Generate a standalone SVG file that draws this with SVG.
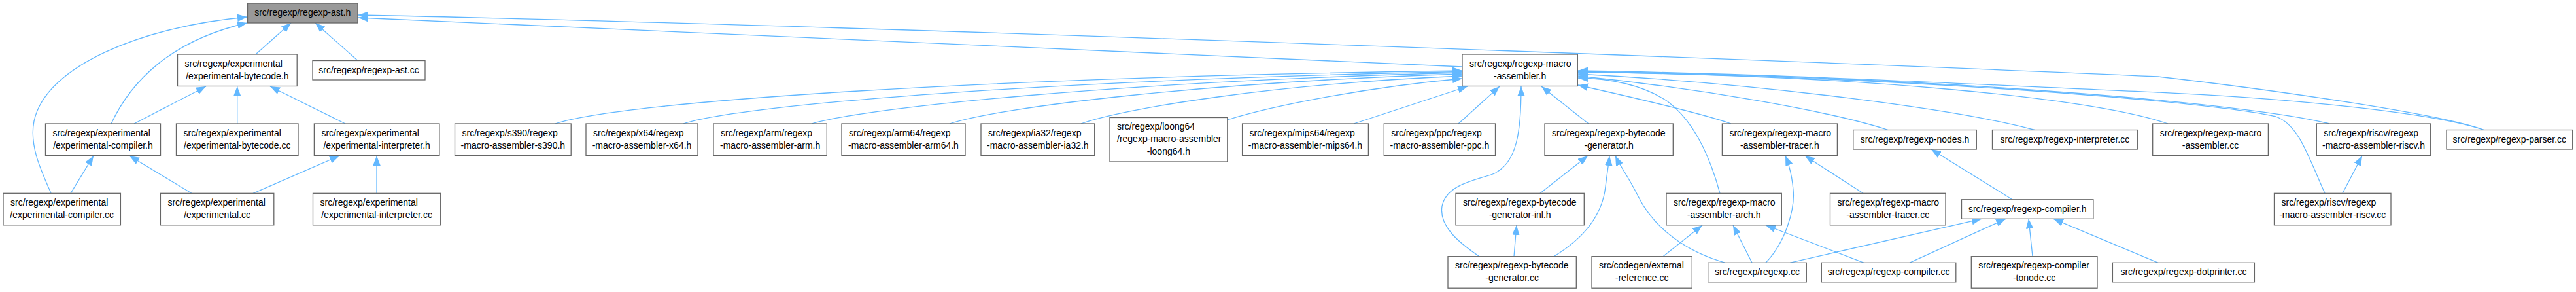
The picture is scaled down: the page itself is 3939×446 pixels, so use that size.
<svg xmlns="http://www.w3.org/2000/svg" width="3939" height="446" viewBox="0 0 3939 446">
<style>
.n rect{fill:#ffffff;stroke:#666666;stroke-width:1.3}
.root rect{fill:#999999}
text{font-family:"Liberation Sans",Arial,sans-serif;font-size:14px;fill:#000000}
.m{text-anchor:middle}
.l{text-anchor:start}
.e path{fill:none;stroke:#63b8ff;stroke-width:1.3;marker-end:url(#ah)}
</style>
<defs>
<marker id="ah" markerUnits="userSpaceOnUse" viewBox="0 0 15 12" markerWidth="15" markerHeight="12" refX="15" refY="6" orient="auto">
<path d="M0,0.2 L15,6 L0,11.8 z" fill="#63b8ff"/>
</marker>
</defs>
<rect width="3939" height="446" fill="#ffffff"/>
<g id="connectors" class="e">
<path d="M391,83 L445,35"/>
<path d="M547,92.5 L482,35"/>
<path d="M170,189 C200,125 260,62 378,35"/>
<path d="M78,295 C60,255 45,220 52,185 C70,100 220,40 378,26"/>
<path d="M2236,102 L548,27"/>
<path d="M3798,198.5 C3740,176 3500,140 3300,117 C2800,95 1300,38 548,23"/>
<path d="M205,189 L315,132"/>
<path d="M362.7,189 L362.7,132"/>
<path d="M528,189 L413,132"/>
<path d="M108,295.3 L143,238"/>
<path d="M293,295.3 L198,238"/>
<path d="M387,295.3 L519,238"/>
<path d="M576,295.3 L576,238"/>
<path d="M849,189 C950,155 1500,118 2236,108"/>
<path d="M1045,189 C1130,160 1600,122 2236,109.5"/>
<path d="M1241,189 C1320,165 1700,125 2236,111"/>
<path d="M1452,189 C1530,163 1850,125 2236,113"/>
<path d="M1653,189 C1720,165 1950,128 2236,116"/>
<path d="M1877,183 C1950,160 2100,132 2236,120"/>
<path d="M2070,189 L2244,132"/>
<path d="M2230,189 L2293,132"/>
<path d="M2262,391.7 C2230,370 2200,345 2205,315 C2212,280 2260,275 2285,265 C2320,248 2326,200 2326,132"/>
<path d="M2429,189 L2357,132"/>
<path d="M2647,189 C2600,172 2480,145 2413,130"/>
<path d="M2887,198.5 C2800,170 2600,135 2413,116"/>
<path d="M3111,198.5 C3000,168 2700,128 2413,113"/>
<path d="M3315,189 C3200,150 2850,115 2413,110"/>
<path d="M3562,189 C3450,160 3000,118 2413,109"/>
<path d="M3555,295.3 C3530,240 3515,190 3480,178 C3400,158 2950,118 2413,110"/>
<path d="M3798,198.5 C3720,172 3500,150 3300,141 C3000,128 2700,112 2413,108"/>
<path d="M2630,295.3 C2615,240 2590,185 2550,155 C2510,128 2460,120 2413,119"/>
<path d="M2355,295.3 L2428,238"/>
<path d="M2376,391.7 C2420,365 2450,330 2455,285 C2458,260 2460,250 2461,238"/>
<path d="M2315,391.7 L2319,344"/>
<path d="M2638,401.3 C2580,385 2530,350 2505,300 C2490,270 2478,255 2470,238"/>
<path d="M2543,391.7 L2603,344"/>
<path d="M2679,401.3 L2650,344"/>
<path d="M2850,401.3 L2700,344"/>
<path d="M2700,401.3 C2730,370 2745,320 2742,290 C2740,265 2735,250 2730,238"/>
<path d="M2849,295.3 L2760,238"/>
<path d="M3077,304.8 L2953,228"/>
<path d="M2737,401.3 L3030,334.3"/>
<path d="M2920,401.3 L3067,334.3"/>
<path d="M3108,391.7 L3102,334.3"/>
<path d="M3300,401.3 L3140,334.3"/>
<path d="M3582,295.3 L3612,238"/>
</g>
<g id="n1" class="n root"><rect x="378.5" y="5" width="168.5" height="30"/><text class="m" x="462.75" y="24">src/regexp/regexp-ast.h</text></g>
<g id="n2" class="n"><rect x="271.5" y="83" width="182.7" height="48.5"/><text class="l" x="282.5" y="101.5">src/regexp/experimental</text><text class="m" x="362.85" y="120.5">/experimental-bytecode.h</text></g>
<g id="n3" class="n"><rect x="478" y="92.5" width="172" height="29.5"/><text class="m" x="564" y="111.5">src/regexp/regexp-ast.cc</text></g>
<g id="n4" class="n"><rect x="2236" y="83" width="176.3" height="48.5"/><text class="l" x="2247" y="101.5">src/regexp/regexp-macro</text><text class="m" x="2324.15" y="120.5">-assembler.h</text></g>
<g id="n5" class="n"><rect x="69.5" y="189" width="176" height="48.5"/><text class="l" x="80.5" y="207.5">src/regexp/experimental</text><text class="m" x="157.5" y="226.5">/experimental-compiler.h</text></g>
<g id="n6" class="n"><rect x="269.5" y="189" width="186.5" height="48.5"/><text class="l" x="280.5" y="207.5">src/regexp/experimental</text><text class="m" x="362.75" y="226.5">/experimental-bytecode.cc</text></g>
<g id="n7" class="n"><rect x="480.4" y="189" width="191.5" height="48.5"/><text class="l" x="491.4" y="207.5">src/regexp/experimental</text><text class="m" x="576.15" y="226.5">/experimental-interpreter.h</text></g>
<g id="n8" class="n"><rect x="695.5" y="189" width="177.7" height="48.5"/><text class="l" x="706.5" y="207.5">src/regexp/s390/regexp</text><text class="m" x="784.35" y="226.5">-macro-assembler-s390.h</text></g>
<g id="n9" class="n"><rect x="896" y="189" width="171" height="48.5"/><text class="l" x="907" y="207.5">src/regexp/x64/regexp</text><text class="m" x="981.5" y="226.5">-macro-assembler-x64.h</text></g>
<g id="n10" class="n"><rect x="1091" y="189" width="173.3" height="48.5"/><text class="l" x="1102" y="207.5">src/regexp/arm/regexp</text><text class="m" x="1177.65" y="226.5">-macro-assembler-arm.h</text></g>
<g id="n11" class="n"><rect x="1287" y="189" width="189" height="48.5"/><text class="l" x="1298" y="207.5">src/regexp/arm64/regexp</text><text class="m" x="1381.5" y="226.5">-macro-assembler-arm64.h</text></g>
<g id="n12" class="n"><rect x="1500" y="189" width="173.7" height="48.5"/><text class="l" x="1511" y="207.5">src/regexp/ia32/regexp</text><text class="m" x="1586.85" y="226.5">-macro-assembler-ia32.h</text></g>
<g id="n13" class="n"><rect x="1697" y="179.5" width="179.8" height="67.5"/><text class="l" x="1708" y="198">src/regexp/loong64</text><text class="l" x="1708" y="217">/regexp-macro-assembler</text><text class="m" x="1786.9" y="236">-loong64.h</text></g>
<g id="n14" class="n"><rect x="1899.6" y="189" width="192.8" height="48.5"/><text class="l" x="1910.6" y="207.5">src/regexp/mips64/regexp</text><text class="m" x="1996" y="226.5">-macro-assembler-mips64.h</text></g>
<g id="n15" class="n"><rect x="2116.3" y="189" width="170.2" height="48.5"/><text class="l" x="2127.3" y="207.5">src/regexp/ppc/regexp</text><text class="m" x="2201.4" y="226.5">-macro-assembler-ppc.h</text></g>
<g id="n16" class="n"><rect x="2362" y="189" width="196.3" height="48.5"/><text class="l" x="2373" y="207.5">src/regexp/regexp-bytecode</text><text class="m" x="2460.15" y="226.5">-generator.h</text></g>
<g id="n17" class="n"><rect x="2633.4" y="189" width="176" height="48.5"/><text class="l" x="2644.4" y="207.5">src/regexp/regexp-macro</text><text class="m" x="2721.4" y="226.5">-assembler-tracer.h</text></g>
<g id="n18" class="n"><rect x="2833.8" y="198.5" width="188.5" height="29.5"/><text class="m" x="2928.05" y="217.5">src/regexp/regexp-nodes.h</text></g>
<g id="n19" class="n"><rect x="3046.5" y="198.5" width="221.8" height="29.5"/><text class="m" x="3157.4" y="217.5">src/regexp/regexp-interpreter.cc</text></g>
<g id="n20" class="n"><rect x="3291.7" y="189" width="176.7" height="48.5"/><text class="l" x="3302.7" y="207.5">src/regexp/regexp-macro</text><text class="m" x="3380.05" y="226.5">-assembler.cc</text></g>
<g id="n21" class="n"><rect x="3542.3" y="189" width="174.4" height="48.5"/><text class="l" x="3553.3" y="207.5">src/regexp/riscv/regexp</text><text class="m" x="3629.5" y="226.5">-macro-assembler-riscv.h</text></g>
<g id="n22" class="n"><rect x="3741" y="198.5" width="192.7" height="29.5"/><text class="m" x="3837.35" y="217.5">src/regexp/regexp-parser.cc</text></g>
<g id="n23" class="n"><rect x="5" y="295.3" width="179.4" height="48.5"/><text class="l" x="16" y="313.8">src/regexp/experimental</text><text class="m" x="94.7" y="332.8">/experimental-compiler.cc</text></g>
<g id="n24" class="n"><rect x="245.4" y="295.3" width="173.4" height="48.5"/><text class="l" x="256.4" y="313.8">src/regexp/experimental</text><text class="m" x="332.1" y="332.8">/experimental.cc</text></g>
<g id="n25" class="n"><rect x="478.5" y="295.3" width="195.2" height="48.5"/><text class="l" x="489.5" y="313.8">src/regexp/experimental</text><text class="m" x="576.1" y="332.8">/experimental-interpreter.cc</text></g>
<g id="n26" class="n"><rect x="2226" y="295.3" width="196.3" height="48.5"/><text class="l" x="2237" y="313.8">src/regexp/regexp-bytecode</text><text class="m" x="2324.15" y="332.8">-generator-inl.h</text></g>
<g id="n27" class="n"><rect x="2548" y="295.3" width="176.3" height="48.5"/><text class="l" x="2559" y="313.8">src/regexp/regexp-macro</text><text class="m" x="2636.15" y="332.8">-assembler-arch.h</text></g>
<g id="n28" class="n"><rect x="2798.5" y="295.3" width="176.5" height="48.5"/><text class="l" x="2809.5" y="313.8">src/regexp/regexp-macro</text><text class="m" x="2886.75" y="332.8">-assembler-tracer.cc</text></g>
<g id="n29" class="n"><rect x="2999.5" y="304.8" width="201.4" height="29.5"/><text class="m" x="3100.2" y="323.8">src/regexp/regexp-compiler.h</text></g>
<g id="n30" class="n"><rect x="3477.5" y="295.3" width="178.5" height="48.5"/><text class="l" x="3488.5" y="313.8">src/regexp/riscv/regexp</text><text class="m" x="3566.75" y="332.8">-macro-assembler-riscv.cc</text></g>
<g id="n31" class="n"><rect x="2214" y="391.7" width="196.3" height="48.5"/><text class="l" x="2225" y="410.2">src/regexp/regexp-bytecode</text><text class="m" x="2312.15" y="429.2">-generator.cc</text></g>
<g id="n32" class="n"><rect x="2434" y="391.7" width="153.3" height="48.5"/><text class="l" x="2445" y="410.2">src/codegen/external</text><text class="m" x="2510.65" y="429.2">-reference.cc</text></g>
<g id="n33" class="n"><rect x="2611.7" y="401.3" width="150.6" height="29.5"/><text class="m" x="2687" y="420.3">src/regexp/regexp.cc</text></g>
<g id="n34" class="n"><rect x="2785.3" y="401.3" width="205.5" height="29.5"/><text class="m" x="2888.05" y="420.3">src/regexp/regexp-compiler.cc</text></g>
<g id="n35" class="n"><rect x="3014.3" y="391.7" width="192.7" height="48.5"/><text class="l" x="3025.3" y="410.2">src/regexp/regexp-compiler</text><text class="m" x="3110.65" y="429.2">-tonode.cc</text></g>
<g id="n36" class="n"><rect x="3230.4" y="401.3" width="217" height="29.5"/><text class="m" x="3338.9" y="420.3">src/regexp/regexp-dotprinter.cc</text></g>
</svg>
